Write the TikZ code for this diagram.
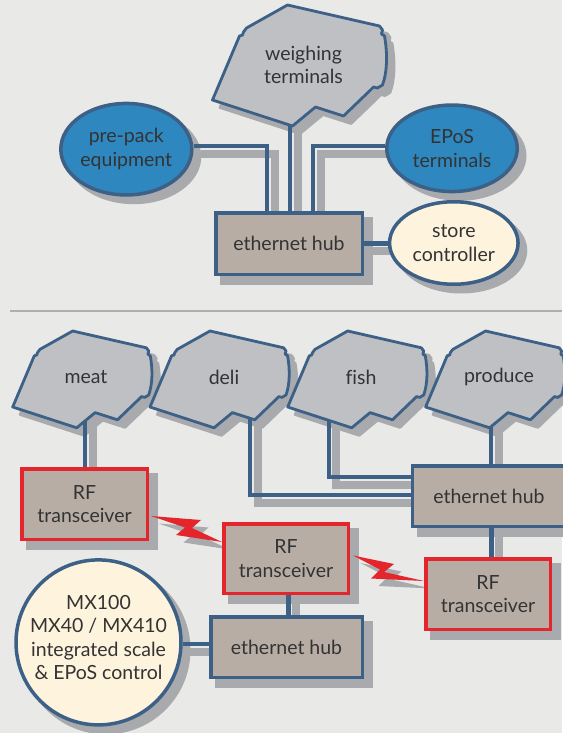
\documentclass[tikz,border=0pt]{standalone}
\usepackage{fontspec}
\setmainfont{Lato}[Ligatures=NoCommon]
\usetikzlibrary{shapes.geometric,calc}
\definecolor{bgcol}{HTML}{E9E9E7}
\definecolor{polygrey}{HTML}{BEC0C3}
\definecolor{lineblue}{HTML}{3D6087}
\definecolor{ovalblue}{HTML}{2F87BF}
\definecolor{cream}{HTML}{FEF3DC}
\definecolor{taupe}{HTML}{B8ADA5}
\definecolor{rfred}{HTML}{E4262C}
\definecolor{shadowgrey}{HTML}{A8AAAD}
\definecolor{divgrey}{HTML}{ADAFB1}
\definecolor{txt}{HTML}{333333}
\pgfdeclarelayer{bgl}
\pgfdeclarelayer{shd}
\pgfdeclarelayer{ln}
\pgfsetlayers{bgl,shd,ln,main}
\newcommand\boxshadow[1]{\fill[shadowgrey] ([shift={(5.8,-9.2)}]#1.south west) rectangle ([shift={(9.2,-5.8)}]#1.north east);}
\begin{document}
\begin{tikzpicture}[x=1pt,y=1pt,
  lbl/.style={font=\fontsize{19.5}{23.5}\selectfont, text=txt, align=center},
  box/.style={rectangle, draw=lineblue, fill=taupe, line width=3.5pt, inner sep=0pt, lbl},
  rfbox/.style={box, draw=rfred},
  oval/.style={ellipse, draw=lineblue, line width=3.5pt, inner sep=0pt, lbl},
  conn/.style={draw=lineblue, line width=4.4pt,
    preaction={draw=shadowgrey, line width=8pt, transform canvas={shift={(7.5pt,-7.5pt)}}}},
  termstyle/.style={fill=polygrey, draw=lineblue, line width=2.8pt, line join=round},
  termshd/.style={fill=shadowgrey, draw=shadowgrey, line width=2.8pt, line join=round},
  bolt/.style={fill=rfred, preaction={fill=shadowgrey, transform canvas={shift={(7.5pt,-7.5pt)}}}},
  term/.pic={
    \path[pic actions] (0,0) -- (92,-21) -- (95,-25) -- (94,-29) -- (97,-31)
      .. controls (100,-48) and (100,-66) .. (95,-80) -- (90,-83) -- (86,-82) -- (83,-85)
      -- (56,-111) -- (28,-102) -- (5,-121) -- (-75,-95) -- (-48,-31) -- (-45,-30)
      -- (-44,-27) -- (-41,-23) -- cycle;
  }]
\useasboundingbox (0,0) rectangle (562,-733);
\begin{pgfonlayer}{bgl}
  \fill[bgcol] (0,0) rectangle (562,-733);
  \draw[divgrey, line width=1.5pt] (10,-311) -- (562,-311);
\end{pgfonlayer}

% ---------- terminal shapes ----------
\begin{pgfonlayer}{shd}
  \pic[termshd] at (295,-12.5) {term};
  \pic[termshd, scale=0.8] at (80.2,-338.5) {term};
  \pic[termshd, scale=0.8] at (217.5,-338.5) {term};
  \pic[termshd, scale=0.8] at (355.2,-338.5) {term};
  \pic[termshd, scale=0.8] at (493.1,-338.5) {term};
\end{pgfonlayer}
\pic[termstyle] at (287.5,-5) {term};
\pic[termstyle, scale=0.8] at (72.7,-331) {term};
\pic[termstyle, scale=0.8] at (210,-331) {term};
\pic[termstyle, scale=0.8] at (347.7,-331) {term};
\pic[termstyle, scale=0.8] at (485.6,-331) {term};
\node[lbl] (wt) at (303.5,-65) {weighing\\terminals};
\node[lbl] (meat) at (86,-377) {meat};
\node[lbl] (deli) at (224,-377) {deli};
\node[lbl] (fish) at (361,-377) {fish};
\node[lbl] (produce) at (499,-377) {produce};
\coordinate (wtj) at (290,-100);
\coordinate (mj) at (85,-400);
\coordinate (dj) at (250,-400);
\coordinate (fj) at (328.7,-400);
\coordinate (prj) at (491,-400);

% ---------- lightning ----------
\fill[bolt] (151,-516) -- (201,-520) -- (192,-528) -- (222,-542) -- (176,-535) -- (185,-527.5) -- cycle;
\fill[bolt] (353,-555.5) -- (394,-564) -- (384,-572) -- (424,-581) -- (371,-578.5) -- (380,-569.5) -- cycle;

% ---------- top section nodes ----------
\node[oval, fill=ovalblue, minimum width=131pt, minimum height=91.5pt] (pp) at (126.3,-149.2) {pre-pack\\equipment};
\node[oval, fill=ovalblue, minimum width=130.5pt, minimum height=86.5pt] (epos) at (452,-148.3) {EPoS\\terminals};
\node[oval, fill=cream, minimum width=128.5pt, minimum height=82.5pt] (sc) at (453.8,-243) {store\\controller};
\node[box, minimum width=146.5pt, minimum height=61.5pt] (hub1) at (289,-243.5) {ethernet hub};

% ---------- bottom section nodes ----------
\node[box, minimum width=153pt, minimum height=60.5pt] (hub2) at (489,-496) {ethernet hub};
\node[rfbox, minimum width=125.5pt, minimum height=70.5pt] (rf1) at (84.5,-504) {RF\\transceiver};
\node[rfbox, minimum width=124.5pt, minimum height=69.5pt] (rf2) at (286,-558.5) {RF\\transceiver};
\node[rfbox, minimum width=124.5pt, minimum height=70.5pt] (rf3) at (488,-594) {RF\\transceiver};
\node[box, minimum width=151.5pt, minimum height=60.5pt] (hub3) at (286.5,-647) {ethernet hub};
\node[oval, fill=cream, minimum width=165pt, minimum height=165pt] (mx) at (98.5,-642.4) {};
\node[lbl] (mxt) at (98.5,-637.5) {MX100\\MX40 / MX410\\integrated scale\\\& EPoS control};

% ---------- shadows of nodes ----------
\begin{pgfonlayer}{shd}
  \fill[shadowgrey] ([shift={(7.5,-7.5)}]pp.center) ellipse [x radius=67.5pt, y radius=47.5pt];
  \fill[shadowgrey] ([shift={(7.5,-7.5)}]epos.center) ellipse [x radius=67pt, y radius=45pt];
  \fill[shadowgrey] ([shift={(7.5,-7.5)}]sc.center) ellipse [x radius=66pt, y radius=43pt];
  \fill[shadowgrey] ([shift={(7.5,-7.5)}]mx.center) ellipse [x radius=84.5pt, y radius=84.5pt];
  \boxshadow{hub1}
  \boxshadow{hub2}
  \boxshadow{hub3}
  \boxshadow{rf1}
  \boxshadow{rf2}
  \boxshadow{rf3}
\end{pgfonlayer}

% ---------- connectors ----------
\begin{pgfonlayer}{ln}
  \draw[conn] ([yshift=3pt]pp.east) -| ([xshift=-22pt]hub1.north);
  \draw[conn] (wtj) -- (wtj |- hub1.north);
  \draw[conn] ([yshift=2.3pt]epos.west) -| ([xshift=24pt]hub1.north);
  \draw[conn] (hub1.east) -- (hub1.east -| sc.west);
  \draw[conn] (mj) -- (mj |- rf1.north);
  \draw[conn] (dj) |- ([yshift=1pt]hub2.west);
  \draw[conn] (fj) |- ([yshift=19pt]hub2.west);
  \draw[conn] (prj) -- (prj |- hub2.north);
  \draw[conn] ([xshift=2.5pt]hub2.south) -- ([xshift=2.5pt]hub2.south |- rf3.north);
  \draw[conn] ([xshift=2.5pt]rf2.south) -- ([xshift=2.5pt]rf2.south |- hub3.north);
  \draw[conn] ([yshift=-1.6pt]mx.east) -- ([yshift=-1.6pt]mx.east -| hub3.west);
\end{pgfonlayer}
\end{tikzpicture}
\end{document}
